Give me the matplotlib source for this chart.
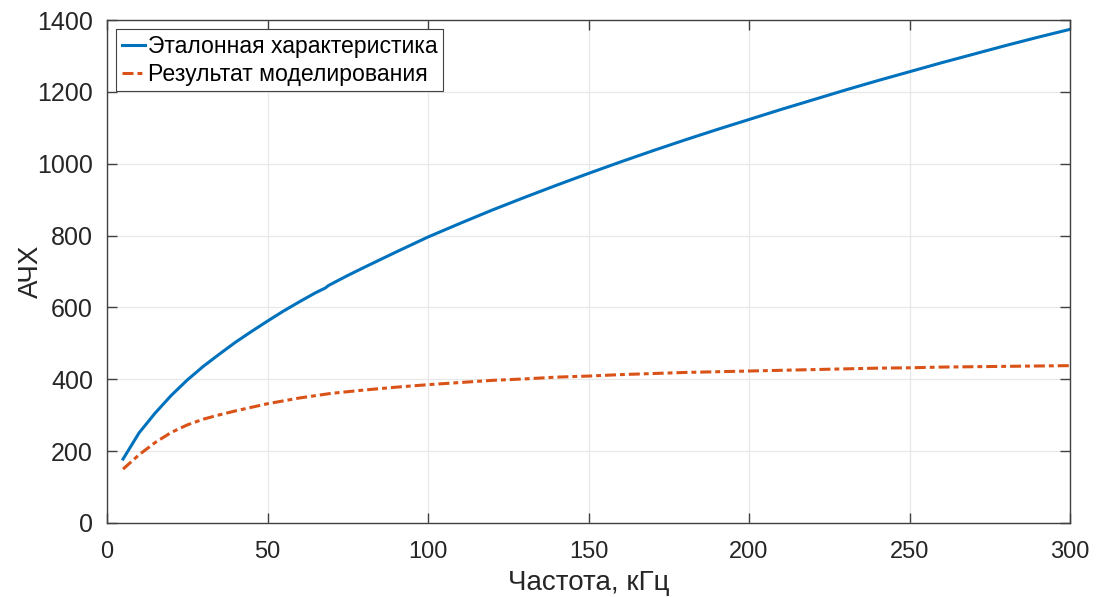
import matplotlib
matplotlib.use("Agg")
import matplotlib.pyplot as plt

plt.rcParams['font.family'] = ['Liberation Sans', 'DejaVu Sans']

# Reference characteristic (x in kHz, y amplitude)
ref_x = [5, 10, 15, 20, 25, 30, 35, 40, 45, 50, 55, 60, 65, 68, 69, 75, 80, 90, 100,
         110, 120, 130, 140, 150, 160, 170, 180, 190, 200, 210, 220, 230, 240, 250,
         260, 270, 280, 290, 300]
ref_y = [178, 251, 306, 355, 398, 436, 470, 503, 533, 562, 590, 616, 641, 654, 661, 689,
         711, 754, 796, 834, 871, 906, 940, 973, 1005, 1036, 1066, 1095, 1123, 1151,
         1178, 1205, 1231, 1256, 1281, 1305, 1329, 1352, 1374]

# Simulation result
sim_x = [5, 10, 15, 20, 25, 30, 35, 40, 45, 50, 60, 70, 80, 90, 100, 110, 120, 130,
         140, 150, 160, 170, 180, 190, 200, 210, 220, 230, 240, 250, 260, 270, 280,
         290, 300]
sim_y = [150, 190, 224, 252, 273, 289, 301, 312, 322, 332, 348, 361, 370, 378, 385,
         391, 397, 401, 406, 409, 413, 416, 419, 421, 423, 425, 427, 429, 431, 432,
         434, 435, 436, 437, 438]

labels = ['Эталонная характеристика', 'Результат моделирования']
xticks = [0, 50, 100, 150, 200, 250, 300]
yticks = [0, 200, 400, 600, 800, 1000, 1200, 1400]

fig = plt.figure(figsize=(10.96, 5.97), dpi=100)
ax = fig.add_axes([107/1096, 1 - 523/597, (1070 - 107)/1096, (523 - 20)/597])

ax.plot(ref_x, ref_y, color='#0072BD', lw=2.2, label=labels[0])
ax.plot(sim_x, sim_y, color='#D95319', lw=2.2, linestyle=(0, (3.6, 1.3, 1.6, 1.3)),
        label=labels[1])

ax.set_xlim(0, 300)
ax.set_ylim(0, 1400)
ax.set_xticks(xticks)
ax.set_yticks(yticks)
ax.grid(True, color='#e8e8e8', lw=0.9)
ax.set_axisbelow(True)
for s in ax.spines.values():
    s.set_color('#404040')
    s.set_linewidth(1.0)
ax.tick_params(direction='in', length=7, width=1.0, colors='#404040',
               labelcolor='#262626', top=True, right=True)
ax.tick_params(axis='y', labelsize=18, pad=10)
ax.tick_params(axis='x', labelsize=17, pad=13)
ax.set_xlabel('Частота, кГц', fontsize=20, color='#262626', labelpad=5)
ax.set_ylabel('АЧХ', fontsize=20, color='#262626')
ax.yaxis.set_label_coords(-0.065, 0.5)

leg = ax.legend(loc='upper left', fontsize=16.6, handlelength=1.0, handletextpad=0.12,
                borderaxespad=0.4, borderpad=0.25, labelspacing=0.2, fancybox=False,
                framealpha=1, edgecolor='#404040')
leg.get_frame().set_linewidth(0.8)
for t in leg.get_texts():
    t.set_color('#000000')

fig.savefig('out.png', dpi=100)
